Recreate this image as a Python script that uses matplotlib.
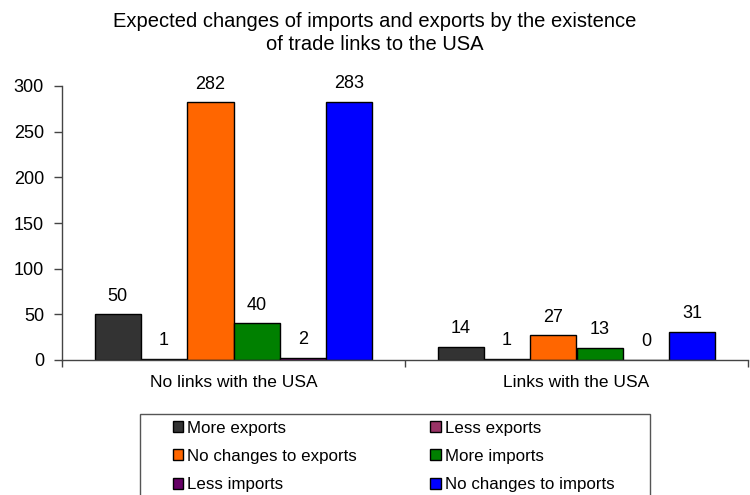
import matplotlib
matplotlib.use("Agg")
import matplotlib.pyplot as plt
from matplotlib.patches import Rectangle
import numpy as np

plt.rcParams["font.family"] = ["Liberation Sans", "DejaVu Sans"]

# Survey counts per group
groups = ["No links with the USA", "Links with the USA"]
series_names = [
    "More exports", "Less exports", "No changes to exports",
    "More imports", "Less imports", "No changes to imports",
]
more_exports = [50, 14]
less_exports = [1, 1]
no_change_exports = [282, 27]
more_imports = [40, 13]
less_imports = [2, 0]
no_change_imports = [283, 31]
series_values = [more_exports, less_exports, no_change_exports,
                 more_imports, less_imports, no_change_imports]
colors = ["#333333", "#993366", "#FF6600", "#008000", "#660066", "#0000FF"]

fig = plt.figure(figsize=(7.5, 4.95), dpi=100)
ax = fig.add_axes([62 / 750, 1 - 360 / 495, 686 / 750, 274 / 495])

x = np.arange(len(groups))
width = 0.135
handles = []
for i, (name, vals, col) in enumerate(zip(series_names, series_values, colors)):
    pos = x + (i - 2.5) * width
    bars = ax.bar(pos, vals, width=width, color=col, edgecolor="black",
                  linewidth=1, label=name)
    handles.append(bars)
    for b, v in zip(bars, vals):
        ax.annotate(f"{v}", xy=(b.get_x() + b.get_width() / 2, v),
                    xytext=(0, 7), textcoords="offset points",
                    ha="center", va="bottom", fontsize=13, color="black")

ax.set_xlim(-0.5, 1.5)
ax.set_ylim(0, 300)
ax.set_yticks(range(0, 301, 50))
ax.tick_params(axis="y", labelsize=13, length=6, width=1, pad=7, color="#444")

# category labels between boundary ticks
ax.set_xticks([-0.5, 0.5, 1.5])
ax.set_xticklabels([])
ax.set_xticks(x, minor=True)
ax.set_xticklabels(groups, minor=True, fontsize=12.5)
ax.tick_params(axis="x", which="major", length=5, width=1, color="#444")
ax.tick_params(axis="x", which="minor", length=0, pad=11)

for side in ["top", "right"]:
    ax.spines[side].set_visible(False)
for side in ["left", "bottom"]:
    ax.spines[side].set_color("#444")
    ax.spines[side].set_linewidth(1)

fig.text(0.5, 1 - 33 / 495, "Expected changes of imports and exports by the existence\nof trade links to the USA",
         ha="center", va="center", fontsize=14.5, linespacing=1.22)

# legend filled row by row, framed separately
order = [0, 2, 4, 1, 3, 5]
leg = fig.legend(handles=[handles[k] for k in order], loc="upper left",
                 bbox_to_anchor=(165 / 750, 1 - 413 / 495), ncol=2,
                 fontsize=12.2, frameon=False,
                 handlelength=0.64, handleheight=0.64,
                 handletextpad=0.2, columnspacing=4.35, labelspacing=0.78,
                 borderpad=0.45, borderaxespad=0)
fig.patches.append(Rectangle((140 / 750, -0.05), 510 / 750, 0.05 + 1 - 414 / 495,
                             transform=fig.transFigure, fill=False,
                             edgecolor="#555", linewidth=1))

fig.savefig("out.png", dpi=100)
